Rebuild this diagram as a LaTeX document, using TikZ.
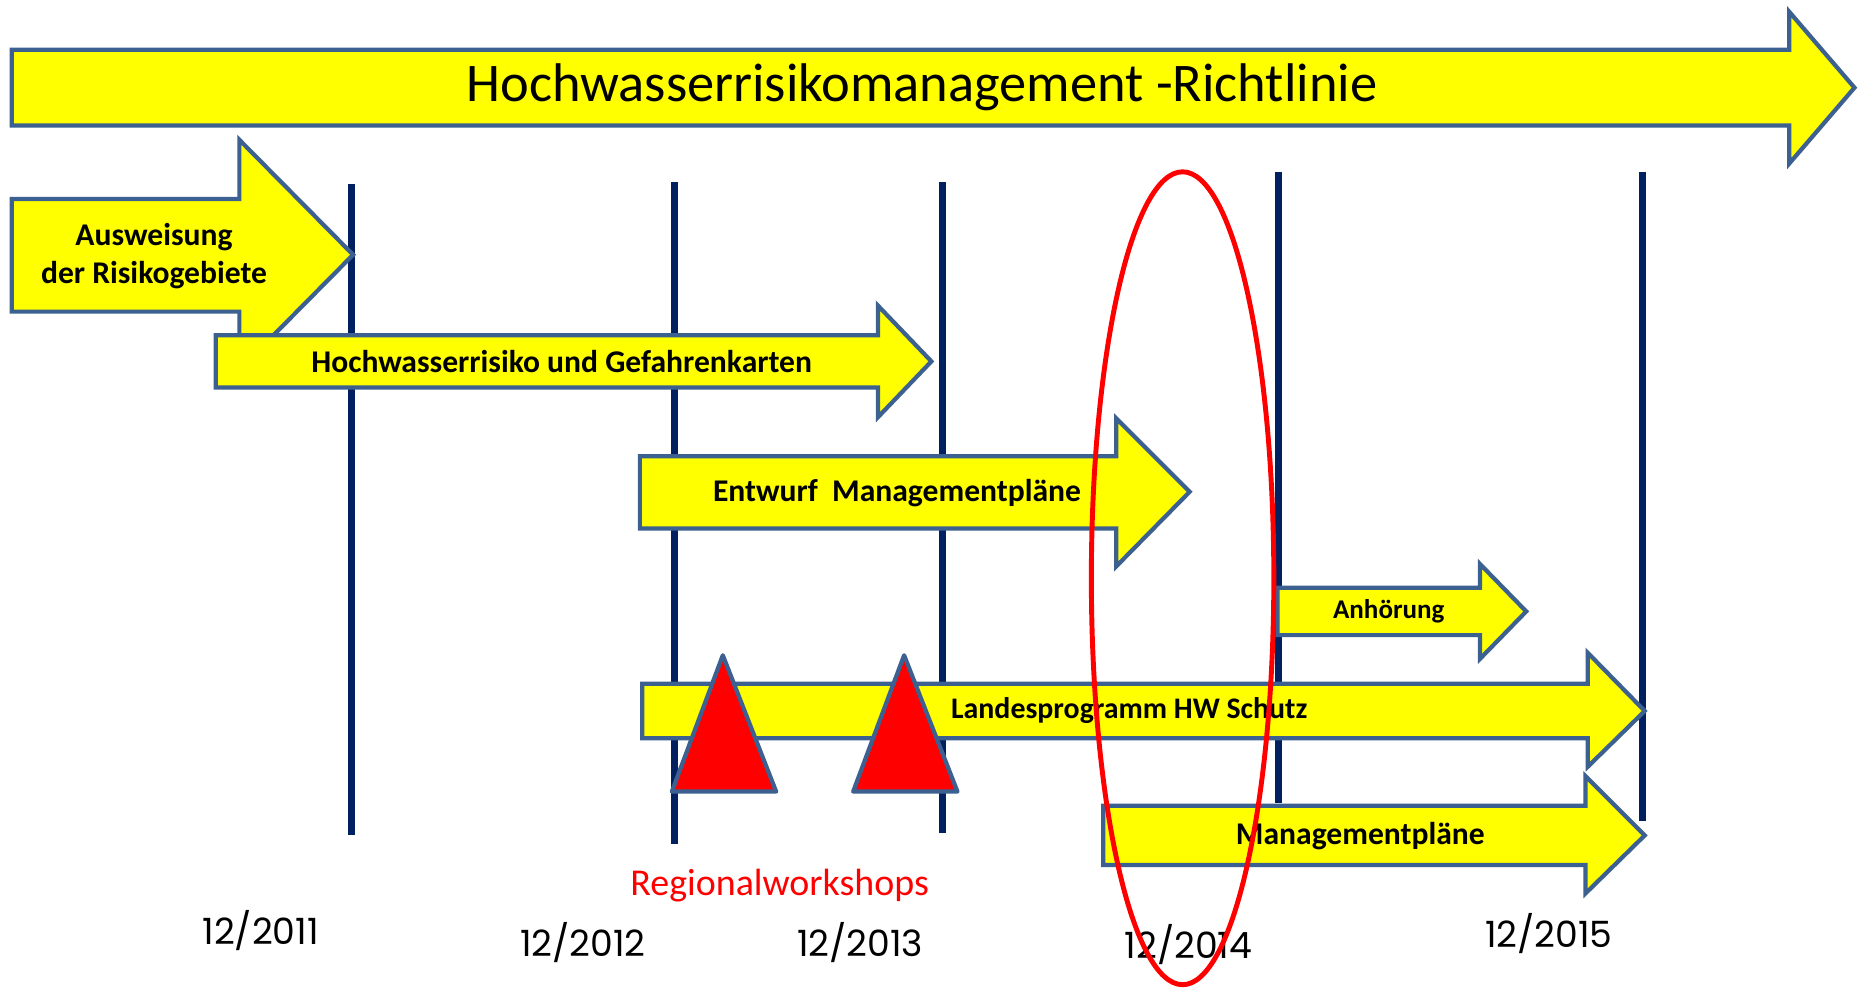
\documentclass[tikz,border=0pt]{standalone}
\usepackage{fontspec}
\setmainfont{Carlito}
\newfontfamily\datefont{Poppins}
\usetikzlibrary{positioning}
\definecolor{arrowedge}{HTML}{3C6191}
\definecolor{yearnavy}{HTML}{002060}
\definecolor{markred}{HTML}{FF0000}
\definecolor{barfill}{HTML}{FFFF00}

\begin{document}
\begin{tikzpicture}[x=0.01185cm,y=-0.01185cm,
    blockarrow/.style={draw=arrowedge,fill=barfill,line width=1.2pt},
    yearline/.style={draw=yearnavy,line width=2pt},
    workshop/.style={draw=arrowedge,fill=markred,line width=1.2pt,line join=round},
    tasktext/.style={font=\fontsize{9}{10.8}\selectfont\bfseries,align=center},
    yeartext/.style={font=\datefont\fontsize{10.3}{12}\selectfont}]
    \useasboundingbox (0,0) rectangle (1568,833);
    % year lines
    \draw[yearline] (297,155) -- (297,705);
    \draw[yearline] (569,154) -- (569,712);
    \draw[yearline] (795,154) -- (795,703);
    \draw[yearline] (1079,145) -- (1079,678);
    \draw[yearline] (1386,145) -- (1386,693);
    % arrows
    \draw[blockarrow] (10,42) -- (1510,42) -- (1510,10) -- (1565,74) -- (1510,138) -- (1510,106) -- (10,106) -- cycle;
    \draw[blockarrow] (10,168) -- (202,168) -- (202,118) -- (298,215) -- (202,312) -- (202,263) -- (10,263) -- cycle;
    \draw[blockarrow] (182,283) -- (741,283) -- (741,258) -- (786,305) -- (741,352) -- (741,327) -- (182,327) -- cycle;
    \draw[blockarrow] (540,385) -- (942,385) -- (942,353) -- (1004,415) -- (942,478) -- (942,446) -- (540,446) -- cycle;
    \draw[blockarrow] (1078,496) -- (1249,496) -- (1249,476) -- (1288,516) -- (1249,556) -- (1249,536) -- (1078,536) -- cycle;
    \draw[blockarrow] (542,577) -- (1340,577) -- (1340,551) -- (1388,600) -- (1340,647) -- (1340,623) -- (542,623) -- cycle;
    \draw[blockarrow] (931,680) -- (1338,680) -- (1338,655) -- (1388,705) -- (1338,754) -- (1338,730) -- (931,730) -- cycle;
    % texts
    \node[font=\fontsize{15.5}{18}\selectfont] (richtlinie) at (778,74) {Hochwasserrisikomanagement -Richtlinie};
    \node[tasktext] (ausweisung) at (130,216) {Ausweisung\\der Risikogebiete};
    \node[tasktext] (karten) at (474,305) {Hochwasserrisiko und Gefahrenkarten};
    \node[tasktext] (entwurf) at (757,416) {Entwurf\ \ Managementpläne};
    \node[tasktext,font=\fontsize{7.7}{9}\selectfont\bfseries] (anhoerung) at (1172,516) {Anhörung};
    \node[tasktext,font=\fontsize{8.5}{10}\selectfont\bfseries] (landesprog) at (953,600) {Landesprogramm HW Schutz};
    \node[tasktext] (plaene) at (1148,706) {Managementpläne};
    % workshops
    \draw[workshop] (610,553) -- (655,668) -- (567,668) -- cycle;
    \draw[workshop] (763,553) -- (808,668) -- (720,668) -- cycle;
    \node[text=markred,font=\fontsize{10.8}{13}\selectfont] (workshops) at (658,747) {Regionalworkshops};
    % years
    \node[yeartext] (y2011) at (220,785) {12/2011};
    \node[yeartext] (y2012) at (492,795) {12/2012};
    \node[yeartext] (y2013) at (726,795) {12/2013};
    \node[yeartext] (y2014) at (1003,797) {12/2014};
    \node[yeartext] (y2015) at (1307,788) {12/2015};
    % highlight
    \draw[markred,line width=1.4pt] (998,488) ellipse [x radius=77, y radius=343];
\end{tikzpicture}
\end{document}
